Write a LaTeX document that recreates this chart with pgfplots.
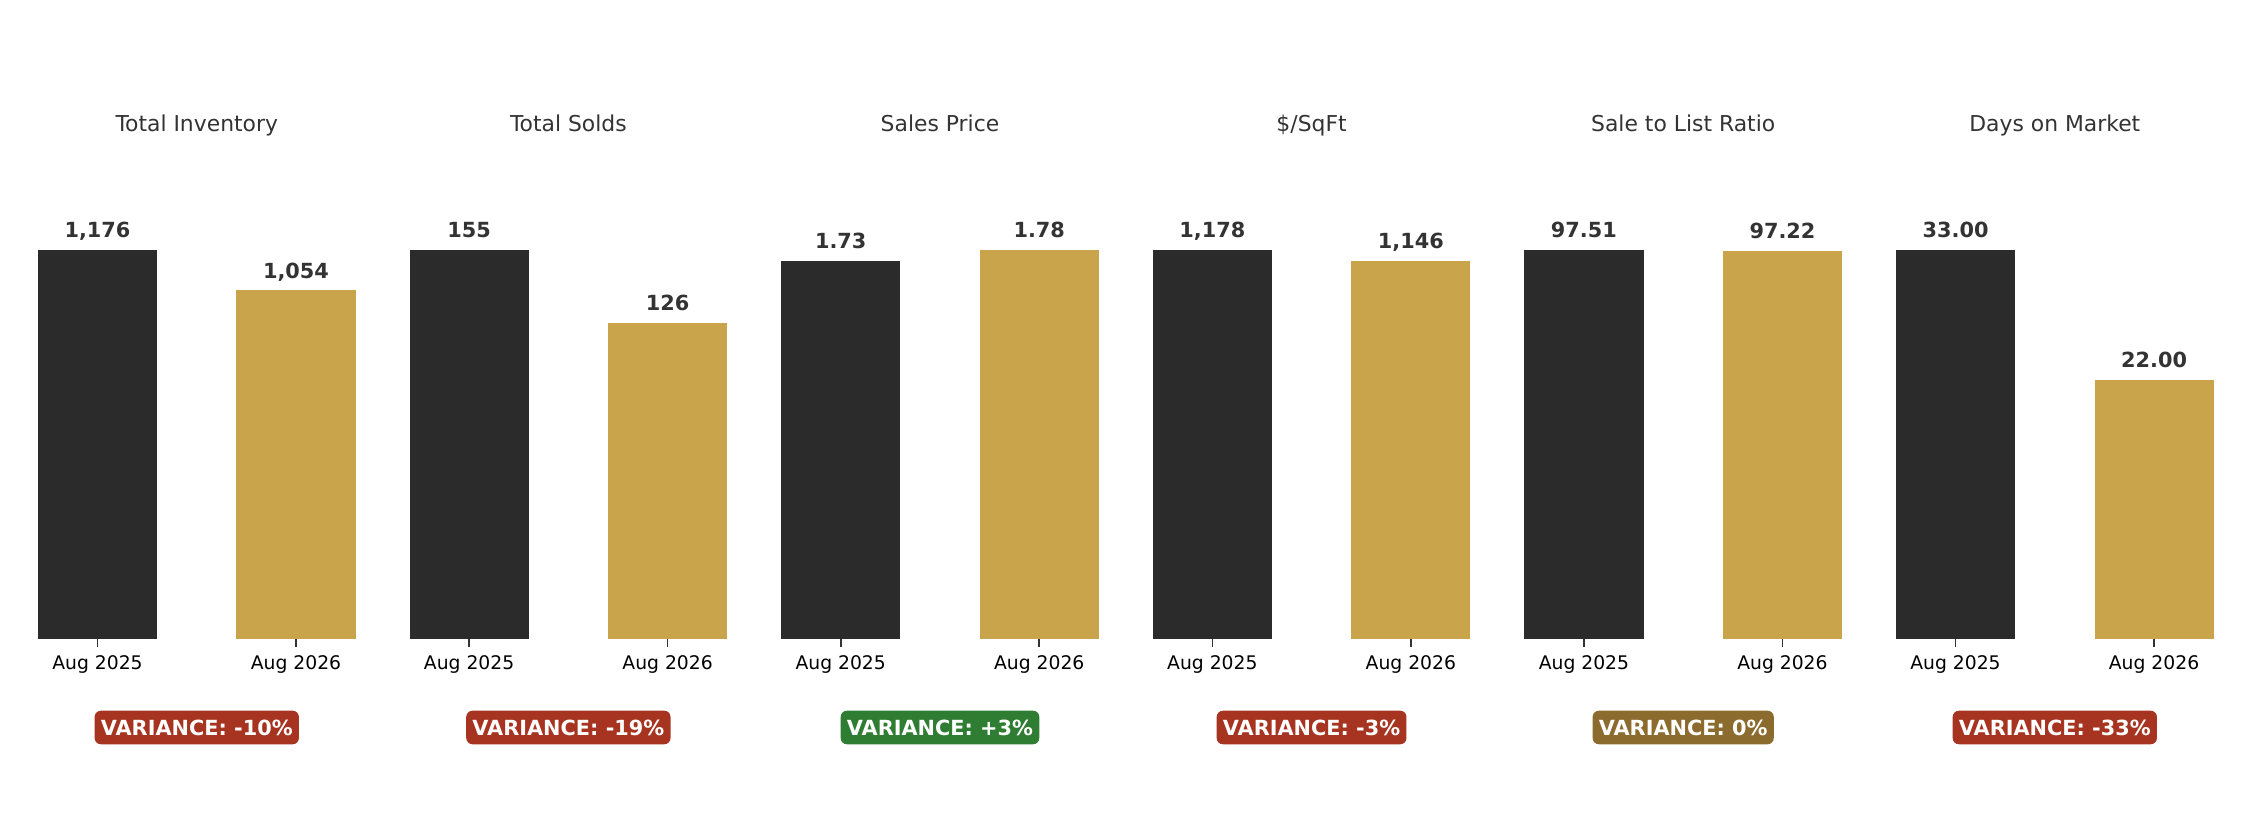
\documentclass[border=0pt]{standalone}
\usepackage{fontspec}
\setmainfont{DejaVu Sans}
\usepackage{pgfplots}
\pgfplotsset{compat=1.18}

\definecolor{bardark}{HTML}{2B2B2B}
\definecolor{bargold}{HTML}{C9A44A}
\definecolor{txtdark}{HTML}{333333}
\definecolor{varred}{HTML}{A63420}
\definecolor{vargreen}{HTML}{2E7D32}
\definecolor{varolive}{HTML}{8B6B2E}

% 1px of the reference = 0.48pt (150 dpi)
\pgfplotsset{
  panel/.style={
    at={(#1,89.1pt)}, anchor=south west,
    scale only axis, width=167.7pt, height=237.6pt,
    xmin=-0.38, xmax=1.38, ymin=0,
    axis x line=bottom, axis y line=none,
    x axis line style={draw=none},
    xtick={0,1}, xticklabels={Aug 2025, Aug 2026},
    ytick=\empty,
    tick align=outside, major tick length=3.5pt,
    xtick style={draw=txtdark, line width=0.8pt},
    xticklabel style={font=\fontsize{9}{11}\selectfont, text=black,
      anchor=base, inner sep=0pt, yshift=-10.8pt},
    ybar, bar width=0.6, bar shift=0pt,
    nodes near coords, point meta=explicit symbolic,
    every node near coord/.append style={
      font=\bfseries\fontsize{10}{12}\selectfont, text=txtdark,
      anchor=base, inner sep=0pt, yshift=5.9pt},
    clip=false,
  },
}

% #1 left edge, #2 title, #3/#4 first value/label, #5/#6 second value/label,
% #7 ymax, #8 badge colour, #9 badge text
\newcommand{\panel}[9]{%
  \begin{axis}[panel=#1, ymax=#7]
    \addplot[fill=bardark, draw=none] coordinates {(0,#3) [#4]};
    \addplot[fill=bargold, draw=none] coordinates {(1,#5) [#6]};
    \node[anchor=base, text=txtdark, font=\fontsize{10.5}{12.5}\selectfont, yshift=6pt]
      at (rel axis cs:0.5,1) {#2};
    \node[fill=#8, text=white, rounded corners=3pt,
      font=\bfseries\fontsize{10}{12}\selectfont,
      inner xsep=3pt, inner ysep=0pt, minimum height=16.1pt, yshift=-42.3pt]
      at (rel axis cs:0.5,0) {#9};
  \end{axis}}

\begin{document}
\begin{tikzpicture}
  \useasboundingbox (0,0) rectangle (1080pt,396pt);
  \panel{10.6pt}{Total Inventory}{1176}{1,176}{1054}{1,054}{1495.3}{varred}{VARIANCE: -10\%}
  \panel{188.97pt}{Total Solds}{155}{155}{126}{126}{197.1}{varred}{VARIANCE: -19\%}
  \panel{367.34pt}{Sales Price}{1.73}{1.73}{1.78}{1.78}{2.263}{vargreen}{VARIANCE: +3\%}
  \panel{545.71pt}{\$/SqFt}{1178}{1,178}{1146}{1,146}{1497.8}{varred}{VARIANCE: -3\%}
  \panel{724.08pt}{Sale to List Ratio}{97.51}{97.51}{97.22}{97.22}{123.98}{varolive}{VARIANCE: 0\%}
  \panel{902.45pt}{Days on Market}{33}{33.00}{22}{22.00}{41.96}{varred}{VARIANCE: -33\%}
\end{tikzpicture}
\end{document}
